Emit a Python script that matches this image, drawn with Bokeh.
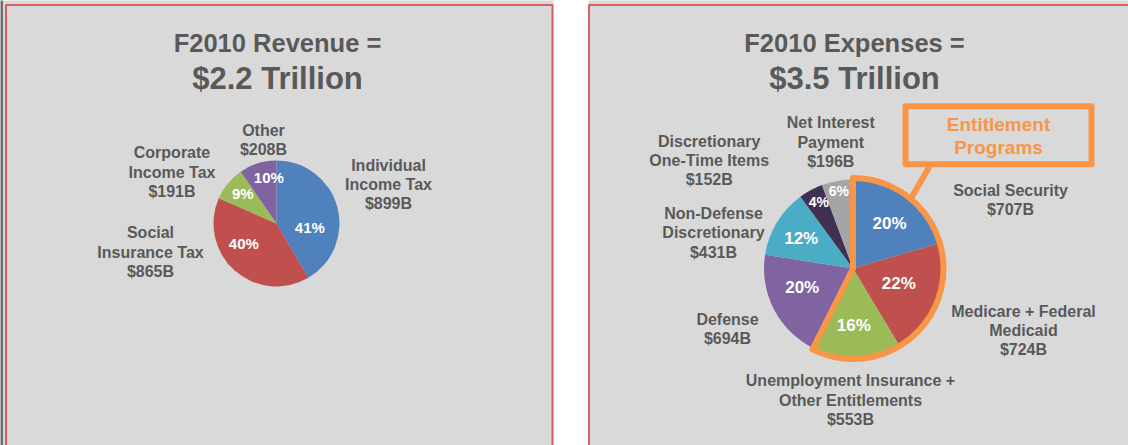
import math
from bokeh.plotting import figure
from bokeh.models import Range1d, ColumnDataSource
from bokeh.core.properties import value
from bokeh.embed import file_html
from bokeh.resources import INLINE

# ---------------- data ----------------
rev_title = ["F2010 Revenue =", "$2.2 Trillion"]
rev_cats = [["Individual", "Income Tax"], ["Social", "Insurance Tax"],
            ["Corporate", "Income Tax"], ["Other"]]
rev_vals = [899, 865, 191, 208]
rev_pcts = ["41%", "40%", "9%", "10%"]
rev_colors = ["#4f81bd", "#c0504d", "#9bbb59", "#8064a2"]

exp_title = ["F2010 Expenses =", "$3.5 Trillion"]
exp_cats = [["Social Security"], ["Medicare + Federal", "Medicaid"],
            ["Unemployment Insurance +", "Other Entitlements"], ["Defense"],
            ["Non-Defense", "Discretionary"], ["Discretionary", "One-Time Items"],
            ["Net Interest", "Payment"]]
exp_vals = [707, 724, 553, 694, 431, 152, 196]
exp_pcts = ["20%", "22%", "16%", "20%", "12%", "4%", "6%"]
exp_colors = ["#4f81bd", "#c0504d", "#9bbb59", "#8064a2", "#4bacc6", "#403152", "#a5a5a5"]

entitlement_text = ["Entitlement", "Programs"]
entitlement_count = 3  # first three expense slices are entitlements

# ---------------- layout (pixel positions, y measured downward) ----------------
W, H = 1128, 445
def Y(y):
    return H - y

FONT = value("Liberation Sans")
GREY = "#595959"
ORANGE = "#f79646"
LH = 19.3
LABEL_SIZE = "16px"

rev_center, rev_r = (276.0, 223.0), 63.0
exp_center, exp_r = (852.5, 268.0), 89.0

rev_label_pos = [(388, 184.0), (150, 251.7), (171.5, 171.7), (263, 139.7)]
rev_pct_pos = [(309.3, 226.7), (243.3, 243.3), (242.3, 193.3), (268.3, 176.7)]
rev_pct_size = ["15px", "15px", "15px", "15px"]

exp_label_pos = [(1010, 199.7), (1023, 330.0), (850, 399.7), (727, 328.3),
                 (713, 232.3), (708.7, 160.0), (830.3, 141.7)]
exp_pct_pos = [(889, 223.3), (898.3, 283.3), (853.3, 325.0), (801.7, 286.7),
               (800.7, 238.3), (818.3, 201.7), (838.3, 190.7)]
exp_pct_size = ["17px", "17px", "17px", "17px", "17px", "14px", "14px"]

p = figure(width=W, height=H, x_range=Range1d(0, W), y_range=Range1d(0, H),
           output_backend="svg", toolbar_location=None,
           x_axis_type=None, y_axis_type=None, min_border=0)
p.xgrid.visible = False
p.ygrid.visible = False
p.outline_line_color = None
p.background_fill_color = "white"
p.border_fill_color = "white"

# panels
p.quad(left=[-2], right=[2.5], bottom=[-5], top=[H + 5], fill_color="#6e6e6e", line_color=None)
p.quad(left=[2.5, 588], right=[553, W + 20], bottom=[-5, -5], top=[H + 5, H + 5],
       fill_color="#d9d9d9", line_color=None)
p.quad(left=[5.5, 588.5], right=[552, W + 20], bottom=[-10, -10], top=[Y(4.5), Y(4.5)],
       fill_color=None, line_color="#d65f5f", line_width=2)


def angles(vals):
    tot = float(sum(vals))
    starts, ends, c = [], [], 0.0
    for v in vals:
        starts.append(math.pi / 2 - 2 * math.pi * c / tot)
        c += v
        ends.append(math.pi / 2 - 2 * math.pi * c / tot)
    return starts, ends


def draw_pie(center, r, vals, colors):
    s, e = angles(vals)
    src = ColumnDataSource(dict(x=[center[0]] * len(vals), y=[Y(center[1])] * len(vals),
                                start=s, end=e, color=colors))
    p.wedge(x="x", y="y", radius=r, radius_units="screen", start_angle="start",
            end_angle="end", direction="clock", fill_color="color", line_color=None,
            source=src)
    return s, e


def draw_lines(lines, cx, cy, size, color, lh=LH):
    n = len(lines)
    xs = [cx] * n
    ys = [Y(cy + (i - (n - 1) / 2.0) * lh) for i in range(n)]
    p.text(x=xs, y=ys, text=lines, text_font=FONT, text_font_style="bold",
           text_font_size=size, text_color=color, text_align="center",
           text_baseline="middle")


def draw_titles(lines, cx):
    p.text(x=[cx], y=[Y(42)], text=[lines[0]], text_font=FONT, text_font_style="bold",
           text_font_size="25.5px", text_color=GREY, text_align="center",
           text_baseline="alphabetic")
    p.text(x=[cx], y=[Y(78.3)], text=[lines[1]], text_font=FONT, text_font_style="bold",
           text_font_size="31px", text_color=GREY, text_align="center",
           text_baseline="alphabetic")


# revenue pie
draw_titles(rev_title, 277)
draw_pie(rev_center, rev_r, rev_vals, rev_colors)
for cat, v, (lx, ly) in zip(rev_cats, rev_vals, rev_label_pos):
    draw_lines(cat + ["$%dB" % v], lx, ly, LABEL_SIZE, GREY)
for t, (px, py), sz in zip(rev_pcts, rev_pct_pos, rev_pct_size):
    draw_lines([t], px, py, sz, "white")

# expenses pie
draw_titles(exp_title, 854)
s, e = draw_pie(exp_center, exp_r, exp_vals, exp_colors)
for cat, v, (lx, ly) in zip(exp_cats, exp_vals, exp_label_pos):
    draw_lines(cat + ["$%dB" % v], lx, ly, LABEL_SIZE, GREY)
for t, (px, py), sz in zip(exp_pcts, exp_pct_pos, exp_pct_size):
    draw_lines([t], px, py, sz, "white")

# entitlement outline + callout
p.wedge(x=[exp_center[0]], y=[Y(exp_center[1])], radius=exp_r + 1.5, radius_units="screen",
        start_angle=[s[0]], end_angle=[e[entitlement_count - 1]], direction="clock",
        fill_color=None, line_color=ORANGE, line_width=6, line_join="round")
p.segment(x0=[929], y0=[Y(166)], x1=[911], y1=[Y(197)], line_color=ORANGE, line_width=6)
p.quad(left=[905], right=[1091], top=[Y(105.7)], bottom=[Y(163.7)], fill_color=None,
       line_color=ORANGE, line_width=6, line_join="round")
draw_lines(entitlement_text, 998, 135.7, "19px", ORANGE, lh=22.7)

open("out.html", "w").write(file_html(p, INLINE))
